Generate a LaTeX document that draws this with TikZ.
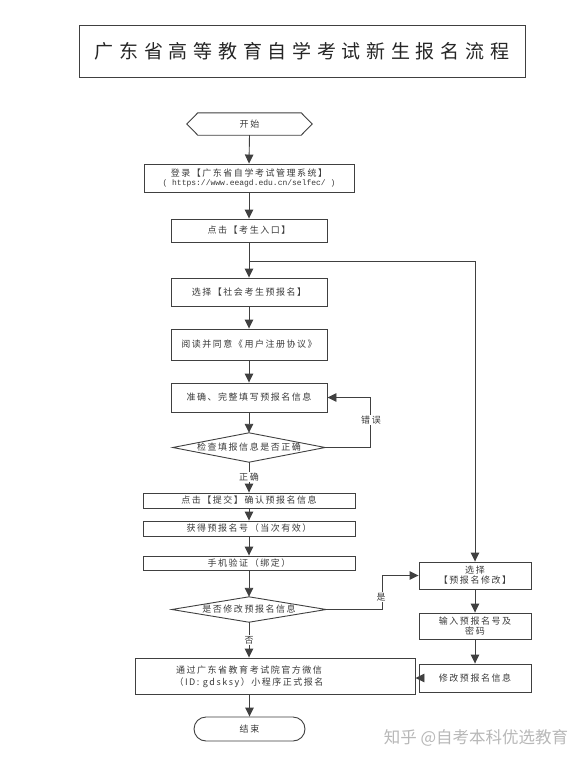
\documentclass[tikz,border=0pt]{standalone}
\usepackage{fontspec}
\setmainfont{Noto Sans CJK SC}
\newfontfamily\cjk{Noto Sans CJK SC}[LetterSpace=17]
\newfontfamily\cjktitle{Noto Sans CJK SC}[LetterSpace=30]
\newfontfamily\monourl{Liberation Mono}
\usetikzlibrary{arrows.meta}
\definecolor{ln}{HTML}{404040}
\definecolor{tx}{HTML}{3A3A3A}
\tikzset{
  box/.style={draw=ln, line width=0.9pt, inner sep=0pt, text=tx,
    font=\cjk\fontsize{9}{11.5}\selectfont, align=center},
  ghost/.style={inner sep=0pt},
  lbl/.style={fill=white, inner sep=1pt, text=tx, font=\cjk\fontsize{9}{11.5}\selectfont},
  conn/.style={draw=ln, line width=0.9pt},
  arr/.style={conn, -{Triangle[length=9pt,width=8.5pt]}}
}
\begin{document}
\begin{tikzpicture}[x=1pt,y=-1pt]
\useasboundingbox (0,0) rectangle (588,763);
\fill[white] (0,0) rectangle (588,763);

% title
\node[box, minimum width=446, minimum height=52, text=black!85,
  font=\cjktitle\fontsize{19}{22}\selectfont] (title) at (302,51) {广东省高等教育自学考试新生报名流程};

% start hexagon
\node[ghost, minimum width=125, minimum height=22, text=tx,
  font=\cjk\fontsize{9}{11.5}\selectfont] (start) at (249.5,124) {开始};
\draw[conn] (start.west) -- ([xshift=11pt]start.north west) -- ([xshift=-11pt]start.north east)
  -- (start.east) -- ([xshift=-11pt]start.south east) -- ([xshift=11pt]start.south west) -- cycle;

\node[box, minimum width=210, minimum height=28] (login) at (249,178)
  {登录【广东省自学考试管理系统】\\[-2pt]{\monourl\fontsize{8}{9}\selectfont ( https://www.eeagd.edu.cn/selfec/ )}};
\node[box, minimum width=156, minimum height=23] (click) at (249,230.5) {点击【考生入口】};
\node[box, minimum width=156, minimum height=28] (select) at (249,292) {选择【社会考生预报名】};
\node[box, minimum width=156, minimum height=31] (read) at (249,344.5) {阅读并同意《用户注册协议》};
\node[box, minimum width=156, minimum height=29] (fill) at (249,397.5) {准确、完整填写预报名信息};

\node[ghost, minimum width=152, minimum height=29, text=tx,
  font=\cjk\fontsize{9}{11.5}\selectfont] (check) at (249,447.5) {检查填报信息是否正确};
\draw[conn] (check.west) -- (check.north) -- (check.east) -- (check.south) -- cycle;

\node[box, minimum width=212, minimum height=15] (submit) at (249,500.5) {点击【提交】确认预报名信息};
\node[box, minimum width=212, minimum height=15] (obtain) at (249,528.5) {获得预报名号（当次有效）};
\node[box, minimum width=212, minimum height=14] (phone) at (249,563) {手机验证（绑定）};

\node[ghost, minimum width=154, minimum height=25, text=tx,
  font=\cjk\fontsize{9}{11.5}\selectfont] (modify) at (249,609.5) {是否修改预报名信息};
\draw[conn] (modify.west) -- (modify.north) -- (modify.east) -- (modify.south) -- cycle;

\node[box, minimum width=280, minimum height=36] (wechat) at (275,676) {};
\node[ghost, text=tx, align=center, font=\cjk\fontsize{9}{12}\selectfont] (wechattext) at (249,677)
  {通过广东省教育考试院官方微信\\（ID: gdsksy）小程序正式报名};

\node[box, minimum width=111, minimum height=24, rounded corners=12pt] (end) at (249.5,729) {结束};

\node[box, minimum width=112, minimum height=27] (r1) at (475,575.5) {选择\\[-1.5pt]【预报名修改】};
\node[box, minimum width=112, minimum height=26] (r2) at (475,626) {输入预报名号及\\[-1.5pt]密码};
\node[box, minimum width=112, minimum height=28] (r3) at (475,678) {修改预报名信息};

% connectors
\coordinate (br) at (249,261);
\coordinate (brR) at (475,261);
\coordinate (errc) at (370,447.5);
\coordinate (yesc) at (382,609.5);

\draw[arr] (start.south) -- (login.north);
\draw[arr] (login.south) -- (click.north);
\draw[conn] (click.south) -- (br);
\draw[arr] (br) -- (select.north);
\draw[arr] (br) -- (brR) -- (r1.north);
\draw[arr] (select.south) -- (read.north);
\draw[arr] (read.south) -- (fill.north);
\draw[arr] (fill.south) -- (check.north);
\draw[arr] (check.east) -- (errc) -- (errc |- fill.east) -- (fill.east);
\node[lbl] (errlbl) at (371,420) {错误};
\draw[arr] (check.south) -- (submit.north);
\node[lbl] (oklbl) at (249,477) {正确};
\draw[arr] (submit.south) -- (obtain.north);
\draw[arr] (obtain.south) -- (phone.north);
\draw[arr] (phone.south) -- (modify.north);
\draw[arr] (modify.east) -- (yesc) -- (yesc |- r1.west) -- (r1.west);
\node[lbl] (yeslbl) at (381,597) {是};
\draw[arr] (modify.south) -- (modify.south |- wechat.north);
\node[lbl] (nolbl) at (249,640) {否};
\draw[arr] (end.north |- wechat.south) -- (end.north);
\draw[arr] (r1.south) -- (r2.north);
\draw[arr] (r2.south) -- (r3.north);
\draw[arr] (r3.west) -- (wechat.east |- r3.west);

% watermark
\node[ghost, text=black!28, font=\fontsize{16.5}{19}\selectfont] (wm) at (476,738) {知乎 @自考本科优选教育};
\end{tikzpicture}
\end{document}
